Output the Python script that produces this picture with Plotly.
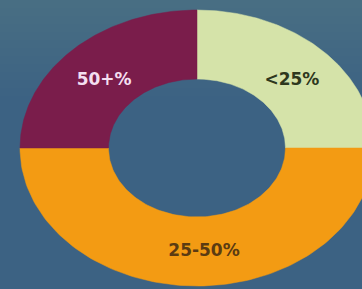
import numpy as np
import plotly.graph_objects as go

# Data
categories = ["<25%", "25-50%", "50+%"]
values = [25, 50, 25]
colors = ["#d5e3a9", "#f39b13", "#7a1d4b"]
text_colors = ["#2e381d", "#5b3b12", "#f4dff0"]

# Geometry (layout, pixel-like axes)
W, H = 362, 289
cx, cy = 197, 148
rx, ry = 177, 138
hole = 0.5

fig = go.Figure()

# subtle smooth background lightening toward top
for i in range(12):
    fig.add_shape(type="rect", x0=0, x1=W, y0=0, y1=8 + i * 8,
                  fillcolor="rgba(255,255,255,0.008)", line_width=0, layer="below")

total = sum(values)
start = 0.0
for cat, v, col, tcol in zip(categories, values, colors, text_colors):
    a0 = start / total * 2 * np.pi
    a1 = (start + v) / total * 2 * np.pi
    t = np.linspace(a0, a1, 120)
    xo = cx + rx * np.sin(t)
    yo = cy - ry * np.cos(t)
    xi = cx + hole * rx * np.sin(t[::-1])
    yi = cy - hole * ry * np.cos(t[::-1])
    xs = np.concatenate([xo, xi, xo[:1]])
    ys = np.concatenate([yo, yi, yo[:1]])
    fig.add_trace(go.Scatter(x=xs, y=ys, fill="toself", fillcolor=col,
                             mode="lines", line=dict(color=col, width=0.5),
                             hoverinfo="text", text=cat, showlegend=False))
    am = (a0 + a1) / 2
    fr = (1 + hole) / 2
    fig.add_trace(go.Scatter(x=[cx + fr * rx * np.sin(am) + (7 if v >= 50 else 1)],
                             y=[cy - fr * ry * np.cos(am) + (0 if v >= 50 else 6)],
                             mode="text", text=[cat],
                             textfont=dict(family="DejaVu Sans", size=17, color=tcol),
                             texttemplate="<b>%{text}</b>",
                             hoverinfo="skip", showlegend=False))
    start += v

fig.update_layout(
    width=W, height=H,
    margin=dict(l=0, r=0, t=0, b=0),
    paper_bgcolor="#3c6283",
    plot_bgcolor="rgba(0,0,0,0)",
    xaxis=dict(range=[0, W], visible=False, fixedrange=True),
    yaxis=dict(range=[H, 0], visible=False, fixedrange=True),
)

fig.write_html("out.html", config={"displayModeBar": False},
               post_script="document.body.style.margin='0';document.body.style.overflow='hidden';")
